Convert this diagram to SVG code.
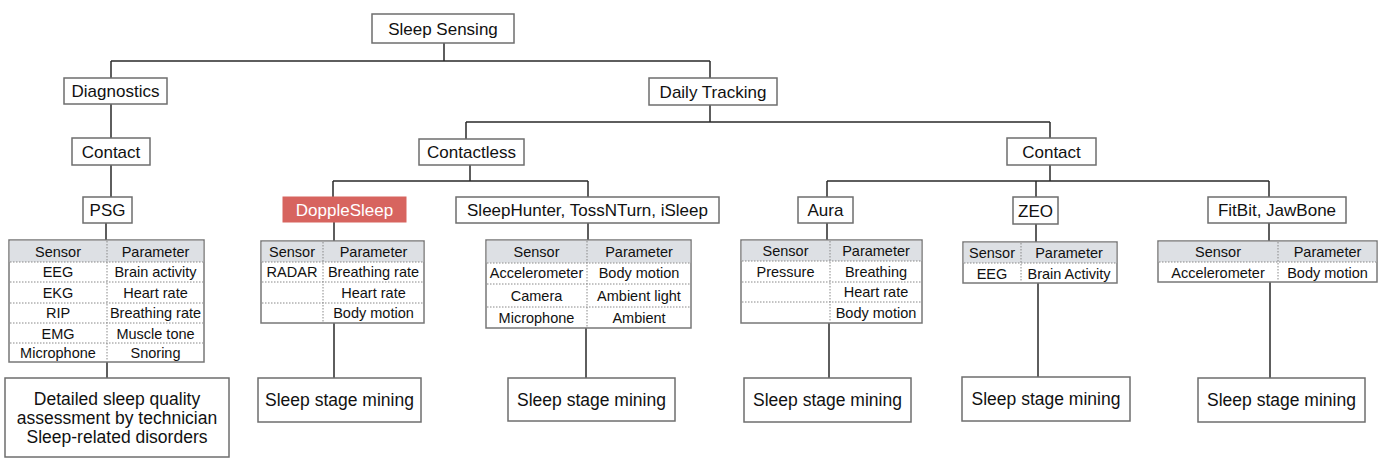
<svg xmlns="http://www.w3.org/2000/svg" width="1396" height="467" viewBox="0 0 1396 467">
<style>
.box{fill:#fff;stroke:#6e6e6e;stroke-width:1.5}
.red{fill:#d7645f;stroke:#d7645f;stroke-width:1}
.t{font-family:"Liberation Sans",Arial,sans-serif;font-size:17px;fill:#111;text-anchor:middle}
.tw{fill:#fff}
.tb{font-family:"Liberation Sans",Arial,sans-serif;font-size:14.5px;fill:#111;text-anchor:middle}
.tbl{fill:#fff;stroke:#777;stroke-width:1.5}
.hdr{fill:#dde0e4;stroke:none}
.dot{stroke:#888;stroke-width:1;stroke-dasharray:1.5,1.5;fill:none}
.conn{stroke:#2a2a2a;stroke-width:1.5;fill:none}
</style>
<rect width="1396" height="467" fill="#fff"/>
<g id="connectors">
<path class="conn" d="M444 43V61M111 61H710M111 61V78M710 61V78"/>
<path class="conn" d="M111 104V138M111 165V197M106 223V240M107 362V378"/>
<path class="conn" d="M710 105V122M466 122H1050M466 122V139M1050 122V138"/>
<path class="conn" d="M470 165V181M333 181H588M333 181V197M588 181V197"/>
<path class="conn" d="M334 222V241M334 323V378M588 223V240M586 328V378"/>
<path class="conn" d="M1050 165V181M827 181H1269M827 181V197M1036 181V197M1269 181V197"/>
<path class="conn" d="M827 223V240M829 323V378M1036 224V242M1038 283V377M1269 223V241M1270 282V378"/>
</g>
<g id="sleep-sensing"><rect class="box" x="372" y="14" width="142" height="29"/><text class="t" x="443" y="35">Sleep Sensing</text></g>
<g id="diagnostics"><rect class="box" x="64" y="78" width="103" height="26"/><text class="t" x="115.5" y="97">Diagnostics</text></g>
<g id="daily-tracking"><rect class="box" x="649" y="78" width="128" height="27"/><text class="t" x="713" y="97.5">Daily Tracking</text></g>
<g id="contact-diag"><rect class="box" x="72" y="138" width="78" height="27"/><text class="t" x="111" y="158">Contact</text></g>
<g id="contactless"><rect class="box" x="419" y="139" width="105" height="26"/><text class="t" x="471.5" y="158">Contactless</text></g>
<g id="contact-daily"><rect class="box" x="1007" y="138" width="89" height="27"/><text class="t" x="1051.5" y="158">Contact</text></g>
<g id="psg"><rect class="box" x="83" y="197" width="49" height="26"/><text class="t" x="107.5" y="216">PSG</text></g>
<g id="dopplesleep"><rect class="red" x="283" y="197" width="123" height="25"/><text class="t tw" x="344.5" y="215.5">DoppleSleep</text></g>
<g id="sleephunter"><rect class="box" x="456" y="197" width="263" height="26"/><text class="t" x="587.5" y="216">SleepHunter, TossNTurn, iSleep</text></g>
<g id="aura"><rect class="box" x="798" y="197" width="55" height="26"/><text class="t" x="825.5" y="216">Aura</text></g>
<g id="zeo"><rect class="box" x="1013" y="197" width="45" height="27"/><text class="t" x="1035.5" y="216.5">ZEO</text></g>
<g id="fitbit"><rect class="box" x="1208" y="197" width="138" height="26"/><text class="t" x="1277" y="216">FitBit, JawBone</text></g>

<g id="psg-table">
<rect class="tbl" x="9" y="240" width="195" height="122"/>
<rect class="hdr" x="9.75" y="240.75" width="193.5" height="21.25"/>
<path class="dot" d="M107 241V361M10 262H203M10 282H203M10 303H203M10 323H203M10 343H203"/>
<text class="tb" x="58" y="256.5">Sensor</text><text class="tb" x="155.5" y="256.5">Parameter</text>
<text class="tb" x="58" y="277">EEG</text><text class="tb" x="155.5" y="277">Brain activity</text>
<text class="tb" x="58" y="297.5">EKG</text><text class="tb" x="155.5" y="297.5">Heart rate</text>
<text class="tb" x="58" y="318">RIP</text><text class="tb" x="155.5" y="318">Breathing rate</text>
<text class="tb" x="58" y="338.5">EMG</text><text class="tb" x="155.5" y="338.5">Muscle tone</text>
<text class="tb" x="58" y="358">Microphone</text><text class="tb" x="155.5" y="358">Snoring</text>
</g>
<g id="dopplesleep-table">
<rect class="tbl" x="261" y="241" width="163" height="82"/>
<rect class="hdr" x="261.75" y="241.75" width="161.5" height="20.25"/>
<path class="dot" d="M323 242V322M262 262H423M262 282H423M262 303H423"/>
<text class="tb" x="292" y="257">Sensor</text><text class="tb" x="373.5" y="257">Parameter</text>
<text class="tb" x="292" y="277">RADAR</text><text class="tb" x="373.5" y="277">Breathing rate</text>
<text class="tb" x="373.5" y="297.5">Heart rate</text>
<text class="tb" x="373.5" y="318">Body motion</text>
</g>
<g id="sleephunter-table">
<rect class="tbl" x="486" y="240" width="205" height="88"/>
<rect class="hdr" x="486.75" y="240.75" width="203.5" height="22"/>
<path class="dot" d="M587 241V327M487 263H690M487 284H690M487 307H690"/>
<text class="tb" x="536.5" y="257">Sensor</text><text class="tb" x="639" y="257">Parameter</text>
<text class="tb" x="536.5" y="278">Accelerometer</text><text class="tb" x="639" y="278">Body motion</text>
<text class="tb" x="536.5" y="300.5">Camera</text><text class="tb" x="639" y="300.5">Ambient light</text>
<text class="tb" x="536.5" y="322.5">Microphone</text><text class="tb" x="639" y="322.5">Ambient</text>
</g>
<g id="aura-table">
<rect class="tbl" x="741" y="240" width="181" height="83"/>
<rect class="hdr" x="741.75" y="240.75" width="179.5" height="20.25"/>
<path class="dot" d="M830 241V322M742 261H921M742 282H921M742 302H921"/>
<text class="tb" x="785.5" y="256">Sensor</text><text class="tb" x="876" y="256">Parameter</text>
<text class="tb" x="785.5" y="277">Pressure</text><text class="tb" x="876" y="277">Breathing</text>
<text class="tb" x="876" y="297">Heart rate</text>
<text class="tb" x="876" y="318">Body motion</text>
</g>
<g id="zeo-table">
<rect class="tbl" x="963" y="242" width="154" height="41"/>
<rect class="hdr" x="963.75" y="242.75" width="152.5" height="20.25"/>
<path class="dot" d="M1021 243V282M964 263H1116"/>
<text class="tb" x="992" y="258">Sensor</text><text class="tb" x="1069" y="258">Parameter</text>
<text class="tb" x="992" y="278.5">EEG</text><text class="tb" x="1069" y="278.5">Brain Activity</text>
</g>
<g id="fitbit-table">
<rect class="tbl" x="1158" y="241" width="219" height="41"/>
<rect class="hdr" x="1158.75" y="241.75" width="217.5" height="20.25"/>
<path class="dot" d="M1278 242V281M1159 262H1376"/>
<text class="tb" x="1218" y="257">Sensor</text><text class="tb" x="1327.5" y="257">Parameter</text>
<text class="tb" x="1218" y="277.5">Accelerometer</text><text class="tb" x="1327.5" y="277.5">Body motion</text>
</g>

<g id="psg-outcome"><rect class="box" x="5" y="378" width="224" height="79"/>
<text class="t" style="font-size:17.5px" x="117" y="405">Detailed sleep quality</text>
<text class="t" style="font-size:17.5px" x="117" y="424">assessment by technician</text>
<text class="t" style="font-size:17.5px" x="117" y="443">Sleep-related disorders</text></g>
<g id="mining-1"><rect class="box" x="258" y="378" width="163" height="44"/><text class="t" style="font-size:17.5px" x="339.5" y="406">Sleep stage mining</text></g>
<g id="mining-2"><rect class="box" x="508" y="378" width="167" height="43"/><text class="t" style="font-size:17.5px" x="591.5" y="406">Sleep stage mining</text></g>
<g id="mining-3"><rect class="box" x="744" y="378" width="167" height="44"/><text class="t" style="font-size:17.5px" x="827.5" y="406">Sleep stage mining</text></g>
<g id="mining-4"><rect class="box" x="962" y="377" width="168" height="44"/><text class="t" style="font-size:17.5px" x="1046" y="405">Sleep stage mining</text></g>
<g id="mining-5"><rect class="box" x="1198" y="378" width="167" height="44"/><text class="t" style="font-size:17.5px" x="1281.5" y="406">Sleep stage mining</text></g>
</svg>
